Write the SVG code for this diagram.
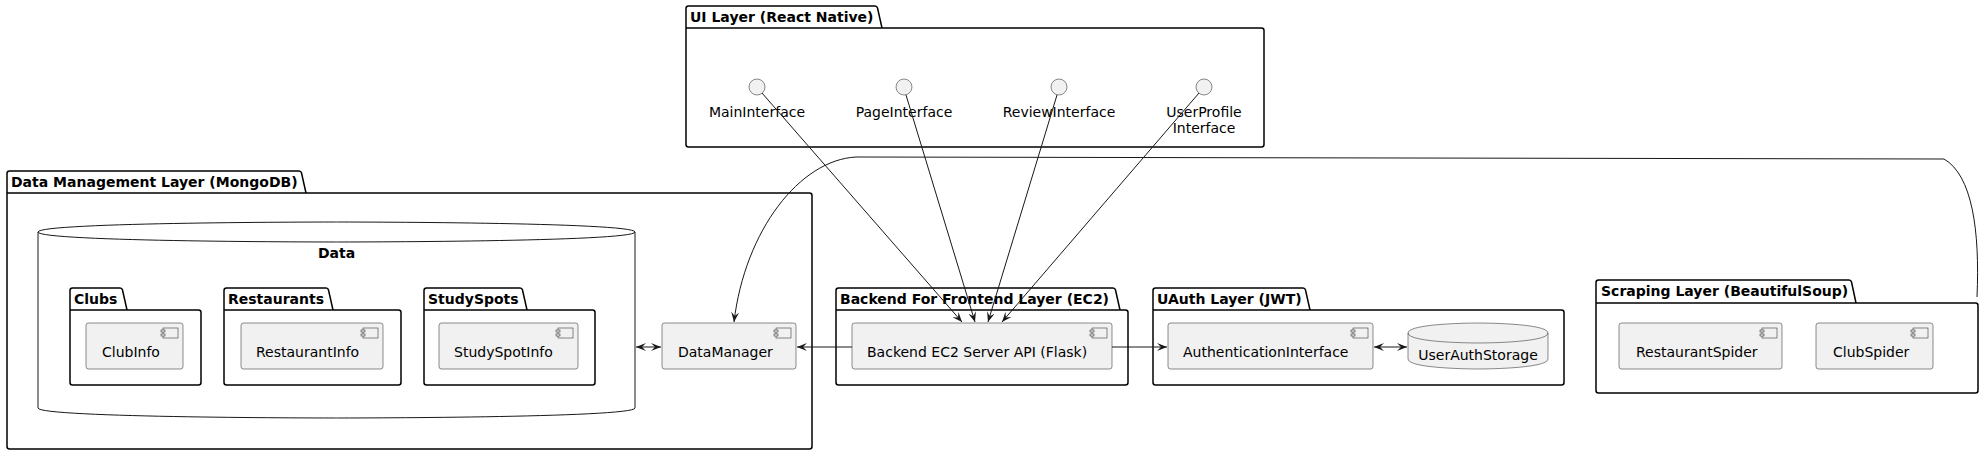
<svg xmlns="http://www.w3.org/2000/svg" width="1986" height="455" viewBox="0 0 1986 455">
<style>
.pkg{fill:none;stroke:#000;stroke-width:1.5}
.ptitle{font-family:"DejaVu Sans",sans-serif;font-size:14px;font-weight:bold;fill:#000}
.comp{fill:#F1F1F1;stroke:#181818;stroke-width:0.5}
.lbl{font-family:"DejaVu Sans",sans-serif;font-size:14px;fill:#000}
.bold{font-weight:bold}
.ic{fill:#F1F1F1;stroke:#181818;stroke-width:0.5}
.ln{fill:none;stroke:#181818;stroke-width:1}
</style>
<defs>
<marker id="ah" viewBox="0 0 10 8" refX="10" refY="4" markerWidth="10" markerHeight="8" orient="auto-start-reverse" markerUnits="userSpaceOnUse"><path d="M0,0 L10,4 L0,8 L4,4 Z" fill="#181818"/></marker>
<g id="cicon"><rect x="0" y="0" width="15" height="10" class="ic"/><rect x="-2" y="2" width="4" height="2" class="ic"/><rect x="-2" y="6" width="4" height="2" class="ic"/></g>
</defs>
<rect width="1986" height="455" fill="#fff"/>

<g id="ui-layer">
<path class="pkg" d="M686,8.5 Q686,6 688.5,6 L875,6 Q877,6 877.5,8 L882,28 L1261.5,28 Q1264,28 1264,30.5 L1264,144.5 Q1264,147 1261.5,147 L688.5,147 Q686,147 686,144.5 Z M686,28 L882,28"/>
<text class="ptitle" x="690" y="22">UI Layer (React Native)</text>
</g>
<g id="MainInterface"><circle cx="757" cy="87" r="8" class="comp"/><text class="lbl" x="757" y="117" text-anchor="middle">MainInterface</text></g>
<g id="PageInterface"><circle cx="904" cy="87" r="8" class="comp"/><text class="lbl" x="904" y="117" text-anchor="middle">PageInterface</text></g>
<g id="ReviewInterface"><circle cx="1059" cy="87" r="8" class="comp"/><text class="lbl" x="1059" y="117" text-anchor="middle">ReviewInterface</text></g>
<g id="UserProfileInterface"><circle cx="1204" cy="87" r="8" class="comp"/><text class="lbl" x="1204" y="117" text-anchor="middle">UserProfile</text><text class="lbl" x="1204" y="133" text-anchor="middle">Interface</text></g>

<g id="data-management-layer">
<path class="pkg" d="M7,173.5 Q7,171 9.5,171 L299,171 Q301,171 301.5,173 L306,193 L809.5,193 Q812,193 812,195.5 L812,446.5 Q812,449 809.5,449 L9.5,449 Q7,449 7,446.5 Z M7,193 L306,193"/>
<text class="ptitle" x="11" y="187">Data Management Layer (MongoDB)</text>
</g>
<g id="Data">
<path fill="#fff" stroke="#181818" stroke-width="1" d="M38,232 C38,222 336.5,222 336.5,222 C336.5,222 635,222 635,232 L635,408 C635,418 336.5,418 336.5,418 C336.5,418 38,418 38,408 Z M38,232 C38,242 336.5,242 336.5,242 C336.5,242 635,242 635,232"/>
<text class="lbl bold" x="336.5" y="258" text-anchor="middle">Data</text>
</g>
<g id="Clubs">
<path class="pkg" d="M70,290.5 Q70,288 72.5,288 L120,288 Q122,288 122.5,290 L127,310 L198.5,310 Q201,310 201,312.5 L201,382.5 Q201,385 198.5,385 L72.5,385 Q70,385 70,382.5 Z M70,310 L127,310"/>
<text class="ptitle" x="74" y="304">Clubs</text>
</g>
<g id="ClubInfo"><rect x="86" y="323" width="97" height="46" rx="2.5" class="comp"/><use href="#cicon" x="163" y="328"/><text class="lbl" x="102" y="357">ClubInfo</text></g>
<g id="Restaurants">
<path class="pkg" d="M224,290.5 Q224,288 226.5,288 L326,288 Q328,288 328.5,290 L333,310 L398.5,310 Q401,310 401,312.5 L401,382.5 Q401,385 398.5,385 L226.5,385 Q224,385 224,382.5 Z M224,310 L333,310"/>
<text class="ptitle" x="228" y="304">Restaurants</text>
</g>
<g id="RestaurantInfo"><rect x="241" y="323" width="142" height="46" rx="2.5" class="comp"/><use href="#cicon" x="363" y="328"/><text class="lbl" x="256" y="357">RestaurantInfo</text></g>
<g id="StudySpots">
<path class="pkg" d="M424,290.5 Q424,288 426.5,288 L520,288 Q522,288 522.5,290 L527,310 L592.5,310 Q595,310 595,312.5 L595,382.5 Q595,385 592.5,385 L426.5,385 Q424,385 424,382.5 Z M424,310 L527,310"/>
<text class="ptitle" x="428" y="304">StudySpots</text>
</g>
<g id="StudySpotInfo"><rect x="439" y="323" width="139" height="46" rx="2.5" class="comp"/><use href="#cicon" x="558" y="328"/><text class="lbl" x="454" y="357">StudySpotInfo</text></g>
<g id="DataManager"><rect x="662" y="323" width="134" height="46" rx="2.5" class="comp"/><use href="#cicon" x="776" y="328"/><text class="lbl" x="678" y="357">DataManager</text></g>

<g id="backend-layer">
<path class="pkg" d="M836,290.5 Q836,288 838.5,288 L1113,288 Q1115,288 1115.5,290 L1120,310 L1125.5,310 Q1128,310 1128,312.5 L1128,382.5 Q1128,385 1125.5,385 L838.5,385 Q836,385 836,382.5 Z M836,310 L1120,310"/>
<text class="ptitle" x="840" y="304">Backend For Frontend Layer (EC2)</text>
</g>
<g id="BackendAPI"><rect x="852" y="323" width="260" height="46" rx="2.5" class="comp"/><use href="#cicon" x="1092" y="328"/><text class="lbl" x="867" y="357">Backend EC2 Server API (Flask)</text></g>

<g id="uauth-layer">
<path class="pkg" d="M1153,290.5 Q1153,288 1155.5,288 L1303,288 Q1305,288 1305.5,290 L1310,310 L1561.5,310 Q1564,310 1564,312.5 L1564,382.5 Q1564,385 1561.5,385 L1155.5,385 Q1153,385 1153,382.5 Z M1153,310 L1310,310"/>
<text class="ptitle" x="1157" y="304">UAuth Layer (JWT)</text>
</g>
<g id="AuthenticationInterface"><rect x="1168" y="323" width="205" height="46" rx="2.5" class="comp"/><use href="#cicon" x="1353" y="328"/><text class="lbl" x="1183" y="357">AuthenticationInterface</text></g>
<g id="UserAuthStorage">
<path class="comp" d="M1408,333 C1408,323 1478,323 1478,323 C1478,323 1548,323 1548,333 L1548,359 C1548,369 1478,369 1478,369 C1478,369 1408,369 1408,359 Z"/>
<path fill="none" stroke="#181818" stroke-width="0.5" d="M1408,333 C1408,343 1478,343 1478,343 C1478,343 1548,343 1548,333"/>
<text class="lbl" x="1478" y="360" text-anchor="middle">UserAuthStorage</text>
</g>

<g id="scraping-layer">
<path class="pkg" d="M1596,282.5 Q1596,280 1598.5,280 L1849,280 Q1851,280 1851.5,282 L1856,303 L1975.5,303 Q1978,303 1978,305.5 L1978,390.5 Q1978,393 1975.5,393 L1598.5,393 Q1596,393 1596,390.5 Z M1596,303 L1856,303"/>
<text class="ptitle" x="1601" y="296">Scraping Layer (BeautifulSoup)</text>
</g>
<g id="RestaurantSpider"><rect x="1619" y="323" width="163" height="46" rx="2.5" class="comp"/><use href="#cicon" x="1762" y="328"/><text class="lbl" x="1636" y="357">RestaurantSpider</text></g>
<g id="ClubSpider"><rect x="1816" y="323" width="117" height="46" rx="2.5" class="comp"/><use href="#cicon" x="1913" y="328"/><text class="lbl" x="1833" y="357">ClubSpider</text></g>

<g id="connectors">
<path class="ln" d="M762,93 L962,322" marker-end="url(#ah)"/>
<path class="ln" d="M906,95 L975,322" marker-end="url(#ah)"/>
<path class="ln" d="M1057,95 L988,322" marker-end="url(#ah)"/>
<path class="ln" d="M1199,93 L1002,322" marker-end="url(#ah)"/>
<path class="ln" d="M852,347 L797,347" marker-end="url(#ah)"/>
<path class="ln" d="M1112,347 L1167,347" marker-end="url(#ah)"/>
<path class="ln" d="M636,347 L661,347" marker-start="url(#ah)" marker-end="url(#ah)"/>
<path class="ln" d="M1374,347 L1407,347" marker-start="url(#ah)" marker-end="url(#ah)"/>
<path class="ln" d="M1977,297 C1980,230 1972,175 1944,159 L856,157 C800,160 745,230 734,322" marker-end="url(#ah)"/>
</g>
</svg>
